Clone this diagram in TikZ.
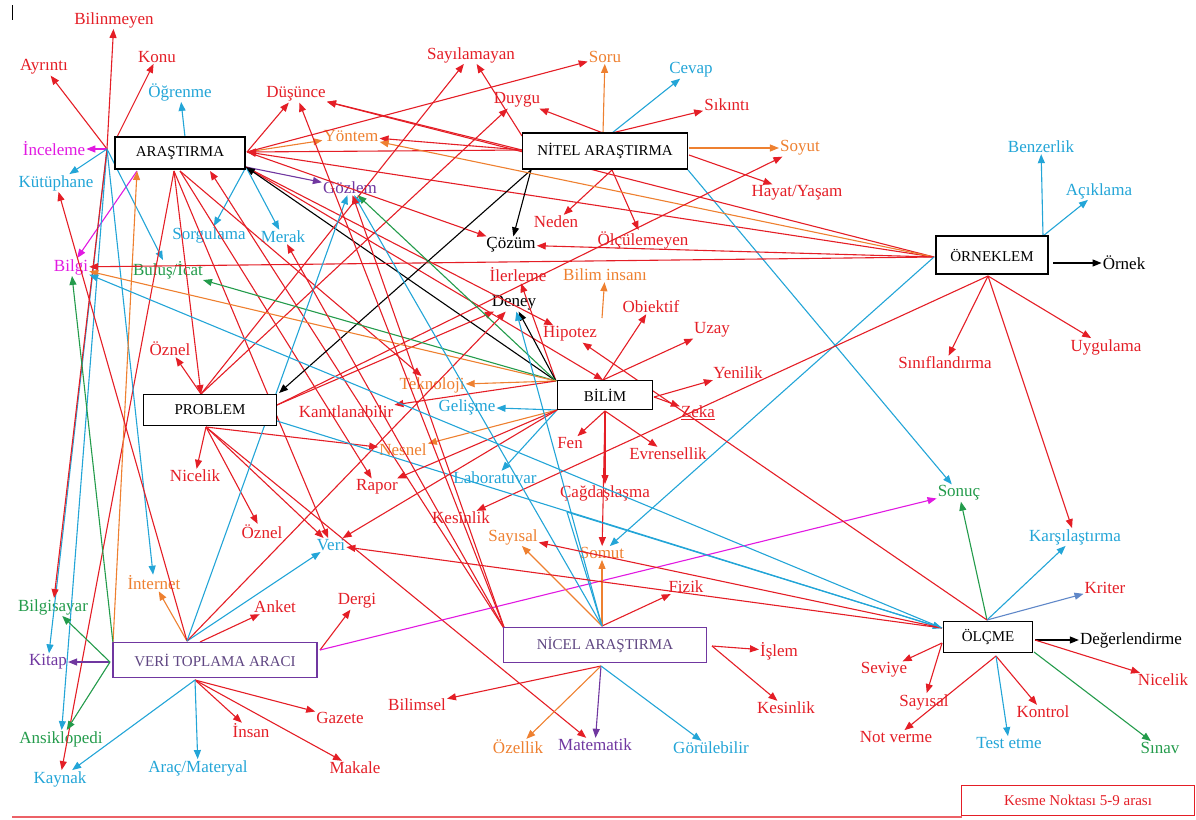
\documentclass[tikz,border=0pt]{standalone}
\usepackage{fontspec}
\setmainfont{Liberation Serif}
\usetikzlibrary{arrows.meta}
\definecolor{kred}{RGB}{228,30,38}
\definecolor{kblu}{RGB}{35,165,215}
\definecolor{korg}{RGB}{238,128,48}
\definecolor{kgrn}{RGB}{35,155,75}
\definecolor{kpur}{RGB}{112,55,160}
\definecolor{kmag}{RGB}{225,25,225}
\definecolor{kstl}{RGB}{95,135,200}
\definecolor{kbox}{RGB}{95,70,130}
\tikzset{
 lab/.style={inner sep=1pt, font=\fontsize{17}{19}\selectfont},
 hub/.style={draw=black, line width=1.2pt, inner sep=0pt, fill=white, font=\fontsize{15}{17}\selectfont},
 phub/.style={hub, draw=kpur, text=kbox},
 ar/.style={line width=1.1pt, -{Triangle[length=9pt,width=7pt]}},
 ln/.style={line width=1.1pt},
}
\begin{document}
\begin{tikzpicture}[x=1pt,y=-1pt]
\useasboundingbox (0,0) rectangle (1196,819);
% hub points
\coordinate (aL) at (107,149); \coordinate (aTl) at (117,137); \coordinate (aT) at (185,137);
\coordinate (aR) at (247,152); \coordinate (aBR) at (246,167); \coordinate (aB) at (174,171);
\coordinate (aB2) at (180,171); \coordinate (aBm) at (210,171); \coordinate (aBo) at (137,171);
\coordinate (nTL) at (522,136); \coordinate (nT) at (603,133); \coordinate (nTR) at (612,133);
\coordinate (nR) at (689,148); \coordinate (nBR) at (689,155); \coordinate (nB) at (612,170);
\coordinate (nBL) at (531,170); \coordinate (nBR2) at (688,170); \coordinate (nL) at (522,150);
\coordinate (oL) at (934,257); \coordinate (oTR) at (1043,236); \coordinate (oR) at (1053,263); \coordinate (oB) at (988,276);
\coordinate (pT) at (201,394); \coordinate (pB) at (206,427); \coordinate (pR) at (277,405); \coordinate (pRB) at (277,421); \coordinate (pNE) at (279,393);
\coordinate (bT) at (603,380); \coordinate (bTL) at (556,381); \coordinate (bR) at (654,397);
\coordinate (bL) at (557,410); \coordinate (bB) at (605,411); \coordinate (bI) at (602,318);
\coordinate (vT) at (187,641); \coordinate (vT2) at (200,642); \coordinate (vTL) at (113,643);
\coordinate (vL) at (110,662); \coordinate (vB) at (195,680); \coordinate (vR) at (320,650);
\coordinate (cT) at (602,626); \coordinate (cTL) at (505,630); \coordinate (cR) at (712,646);
\coordinate (cB) at (601,666); \coordinate (kink) at (567,512);
\coordinate (lT) at (987,620); \coordinate (lL) at (942,628); \coordinate (lR) at (1035,640);
\coordinate (lR2) at (1034,652); \coordinate (lB) at (996,656); \coordinate (lBL) at (942,643);
\coordinate (bar1) at (12,5); \coordinate (bar2) at (12,20);
\coordinate (base1) at (12,817); \coordinate (base2) at (962,817);

% labels
\node[lab,text=kred] (bilinmeyen) at (114,20) {Bilinmeyen};
\node[lab,text=kred] (konu) at (157,57) {Konu};
\node[lab,text=kred] (ayrinti) at (44,67) {Ayrıntı};
\node[lab,text=kblu] (ogrenme) at (180,92) {Öğrenme};
\node[lab,text=kred] (dusunce) at (296,94) {Düşünce};
\node[lab,text=kmag] (inceleme) at (54,149) {İnceleme};
\node[lab,text=kblu] (kutuphane) at (56,183) {Kütüphane};
\node[lab,text=korg] (yontem) at (351,136) {Yöntem};
\node[lab,text=kpur] (gozlem) at (350,188) {Gözlem};
\node[lab,text=kblu] (sorgulama) at (209,235) {Sorgulama};
\node[lab,text=kblu] (merak) at (283,237) {Merak};
\node[lab,text=kmag] (bilgi) at (71,267) {Bilgi};
\node[lab,text=kgrn] (bulus) at (168,270) {Buluş/İcat};
\node[lab,text=kred] (sayilamayan) at (471,55) {Sayılamayan};
\node[lab,text=korg] (soru) at (605,57) {Soru};
\node[lab,text=kblu] (cevap) at (691,70) {Cevap};
\node[lab,text=kred] (duygu) at (517,100) {Duygu};
\node[lab,text=kred] (sikinti) at (727,105) {Sıkıntı};
\node[lab,text=korg] (soyut) at (800,148) {Soyut};
\node[lab,text=kred] (hayat) at (797,193) {Hayat/Yaşam};
\node[lab,text=kred] (neden) at (556,222) {Neden};
\node[lab,text=black] (cozum) at (511,245) {Çözüm};
\node[lab,text=kred] (olculemeyen) at (643,240) {Ölçülemeyen};
\node[lab,text=kblu] (benzerlik) at (1041,147) {Benzerlik};
\node[lab,text=kblu] (aciklama) at (1099,191) {Açıklama};
\node[lab,text=black] (ornek) at (1124,263) {Örnek};
\node[lab,text=kred] (ilerleme) at (518,275) {İlerleme};
\node[lab,text=korg] (biliminsani) at (605,275) {Bilim insanı};
\node[lab,text=black] (deney) at (514,303) {Deney};
\node[lab,text=kred] (obiektif) at (651,307) {Obiektif};
\node[lab,text=kred] (uzay) at (712,330) {Uzay};
\node[lab,text=kred] (hipotez) at (570,334) {Hipotez};
\node[lab,text=kred] (oznel1) at (170,349) {Öznel};
\node[lab,text=kred] (yenilik) at (738,373) {Yenilik};
\node[lab,text=korg] (teknoloji) at (432,385) {Teknoloji};
\node[lab,text=kred] (kanit) at (346,412) {Kanıtlanabilir};
\node[lab,text=kblu] (gelisme) at (467,407) {Gelişme};
\node[lab,text=kred] (zeka) at (698,413) {\underline{Zeka}};
\node[lab,text=kred] (sinif) at (945,363) {Sınıflandırma};
\node[lab,text=kred] (uygulama) at (1106,347) {Uygulama};
\node[lab,text=kred] (fen) at (570,443) {Fen};
\node[lab,text=kred] (evrensellik) at (668,454) {Evrensellik};
\node[lab,text=korg] (nesnel) at (403,450) {Nesnel};
\node[lab,text=kred] (nicelik1) at (195,476) {Nicelik};
\node[lab,text=kred] (rapor) at (377,487) {Rapor};
\node[lab,text=kblu] (laboratuvar) at (495,478) {Laboratuvar};
\node[lab,text=kred] (cagdas) at (605,493) {Çağdaşlaşma};
\node[lab,text=kgrn] (sonuc) at (959,493) {Sonuç};
\node[lab,text=kred] (oznel2) at (262,532) {Öznel};
\node[lab,text=kblu] (veri) at (331,545) {Veri};
\node[lab,text=kred] (kesinlik1) at (461,518) {Kesinlik};
\node[lab,text=korg] (sayisal1) at (513,537) {Sayısal};
\node[lab,text=korg] (somut) at (602,553) {Somut};
\node[lab,text=kblu] (karsilastirma) at (1075,537) {Karşılaştırma};
\node[lab,text=korg] (internet) at (154,583) {İnternet};
\node[lab,text=kred] (anket) at (275,607) {Anket};
\node[lab,text=kred] (dergi) at (357,601) {Dergi};
\node[lab,text=kred] (fizik) at (686,587) {Fizik};
\node[lab,text=kred] (kriter) at (1105,588) {Kriter};
\node[lab,text=kgrn] (bilgisayar) at (53,607) {Bilgisayar};
\node[lab,text=kpur] (kitap) at (48,662) {Kitap};
\node[lab,text=black] (degerlendirme) at (1131,640) {Değerlendirme};
\node[lab,text=kred] (islem) at (779,651) {İşlem};
\node[lab,text=kred] (seviye) at (884,670) {Seviye};
\node[lab,text=kred] (nicelik2) at (1163,680) {Nicelik};
\node[lab,text=kred] (bilimsel) at (417,705) {Bilimsel};
\node[lab,text=kred] (gazete) at (340,718) {Gazete};
\node[lab,text=kred] (kesinlik2) at (786,708) {Kesinlik};
\node[lab,text=kred] (sayisal2) at (924,702) {Sayısal};
\node[lab,text=kred] (kontrol) at (1043,712) {Kontrol};
\node[lab,text=korg] (ozellik) at (518,747) {Özellik};
\node[lab,text=kpur] (matematik) at (595,745) {Matematik};
\node[lab,text=kblu] (gorulebilir) at (711,748) {Görülebilir};
\node[lab,text=kgrn] (ansiklopedi) at (61,739) {Ansiklopedi};
\node[lab,text=kred] (insan) at (251,731) {İnsan};
\node[lab,text=kred] (notverme) at (896,737) {Not verme};
\node[lab,text=kblu] (testetme) at (1009,743) {Test etme};
\node[lab,text=kgrn] (sinav) at (1160,748) {Sınav};
\node[lab,text=kblu] (kaynak) at (60,779) {Kaynak};
\node[lab,text=kblu] (arac) at (198,768) {Araç/Materyal};
\node[lab,text=kred] (makale) at (355,768) {Makale};

% edges: ARASTIRMA
\draw[ar,kred] (aL) -- (ayrinti);
\draw[ar,kred] (aL) -- (bilinmeyen);
\draw[ar,kred] (aTl) -- (konu);
\draw[ar,kblu] (aT) -- (ogrenme);
\draw[ar,kmag] (aL) -- (inceleme);
\draw[ar,kblu] (aL) -- (kutuphane);
\draw[ar,kmag] (aBo) -- (bilgi);
\draw[ar,kblu] (aL) -- (bulus);
\draw[ar,kblu] (aL) -- (kitap);
\draw[ar,kblu] (aL) -- (ansiklopedi);
\draw[ar,kred] (aL) -- (bilgisayar);
\draw[ar,kred] (aB) -- (kaynak);
\draw[ar,kblu] (aL) -- (internet);
\draw[ar,kred] (aR) -- (dusunce);
\draw[ar,kpur] (aBR) -- (gozlem);
\draw[ar,korg] (aR) -- (yontem);
\draw[ar,kblu] (aBR) -- (merak);
\draw[ar,kblu] (aBR) -- (sorgulama);
\draw[ar,kred] (aR) -- (soru);
\draw[ar,kred] (aB) -- (pT);
\draw[ar,kred] (aB2) -- (teknoloji);
\draw[ar,kred] (aB2) -- (rapor);
\draw[ar,kred] (aB) -- (veri);
\draw[ar,kred] (aBR) -- (hipotez);
\draw[ar,kred] (aBR) -- (bT);
\draw[ar,kred] (aR) -- (cozum);
\draw[ar,kred] (nL) -- (aR);
\draw[ar,kred] (oL) -- (aR);
\draw[ar,black] (bTL) -- (aBR);
\draw[ar,kred] (cTL) -- (aBm);
\draw[ar,korg] (vTL) -- (aBo);
% NITEL
\draw[ar,kred] (nTL) -- (sayilamayan);
\draw[ar,kred] (nT) -- (duygu);
\draw[ar,korg] (nT) -- (soru);
\draw[ar,kblu] (nTR) -- (cevap);
\draw[ar,kred] (nTR) -- (sikinti);
\draw[ar,korg] (nR) -- (soyut);
\draw[ar,kred] (nBR) -- (hayat);
\draw[ar,kred] (nB) -- (neden);
\draw[ar,kred] (nB) -- (olculemeyen);
\draw[ar,black] (nBL) -- (cozum);
\draw[ar,black] (nBL) -- (pNE);
\draw[ar,kblu] (nBR2) -- (sonuc);
\draw[ar,kred] (nL) -- (dusunce);
\draw[ar,kred] (nL) -- (yontem);
% ORNEKLEM
\draw[ar,kblu] (oTR) -- (benzerlik);
\draw[ar,kblu] (oTR) -- (aciklama);
\draw[ar,black] (oR) -- (ornek);
\draw[ar,kred] (oB) -- (sinif);
\draw[ar,kred] (oB) -- (uygulama);
\draw[ar,kred] (oB) -- (karsilastirma);
\draw[ar,kred] (oL) -- (dusunce);
\draw[ar,korg] (oL) -- (yontem);
\draw[ar,kred] (oL) -- (cozum);
\draw[ar,kred] (oL) -- (bilgi);
\draw[ar,kblu] (oL) -- (somut);
\draw[ar,kred] (oB) -- (kesinlik1);
% PROBLEM
\draw[ar,kred] (pT) -- (oznel1);
\draw[ar,kred] (pB) -- (nicelik1);
\draw[ar,kred] (pB) -- (oznel2);
\draw[ar,kred] (pB) -- (veri);
\draw[ar,kred] (pB) -- (nesnel);
\draw[ar,kred] (pB) -- (matematik);
\draw[ar,kred] (pT) -- (sayilamayan);
\draw[ar,kred] (pT) -- (duygu);
\draw[ar,kred] (pR) -- (soyut);
\draw[ar,kred] (pR) -- (deney);
\draw[ar,kblu] (pRB) -- (lL);
% BILIM
\draw[ar,korg] (bI) -- (biliminsani);
\draw[ar,kred] (bT) -- (obiektif);
\draw[ar,kred] (bT) -- (uzay);
\draw[ar,kred] (bR) -- (yenilik);
\draw[ar,kred] (bR) -- (zeka);
\draw[ar,kred] (bTL) -- (ilerleme);
\draw[ar,black] (bTL) -- (deney);
\draw[ar,korg] (bTL) -- (teknoloji);
\draw[ar,kred] (bTL) -- (kanit);
\draw[ar,kblu] (bL) -- (gelisme);
\draw[ar,korg] (bL) -- (nesnel);
\draw[ar,kblu] (bL) -- (laboratuvar);
\draw[ar,kred] (bL) -- (rapor);
\draw[ar,kred] (bL) -- (veri);
\draw[ar,kred] (bB) -- (fen);
\draw[ar,kred] (bB) -- (evrensellik);
\draw[ar,kred] (bB) -- (cagdas);
\draw[ar,kred] (bB) -- (somut);
\draw[ar,kgrn] (bTL) -- (gozlem);
\draw[ar,kgrn] (bTL) -- (bulus);
\draw[ar,korg] (bTL) -- (bilgi);
% VERI TOPLAMA ARACI
\draw[ar,korg] (vT) -- (internet);
\draw[ar,kred] (vT2) -- (anket);
\draw[ar,kblu] (vT) -- (veri);
\draw[ar,kred] (vR) -- (dergi);
\draw[ar,kmag] (vR) -- (sonuc);
\draw[ar,kred] (vB) -- (gazete);
\draw[ar,kred] (vB) -- (insan);
\draw[ar,kred] (vB) -- (makale);
\draw[ar,kblu] (vB) -- (arac);
\draw[ar,kblu] (vB) -- (kaynak);
\draw[ar,kpur] (vL) -- (kitap);
\draw[ar,kgrn] (vL) -- (ansiklopedi);
\draw[ar,kgrn] (vL) -- (bilgisayar);
\draw[ar,kgrn] (vTL) -- (bilgi);
\draw[ar,kred] (vT) -- (kutuphane);
\draw[ar,kred] (vT) -- (deney);
\draw[ar,kblu] (vT) -- (gozlem);
% NICEL
\draw[ar,kred] (cT) -- (fizik);
\draw[ar,korg] (cT) -- (somut);
\draw[ar,korg] (cT) -- (sayisal1);
\draw[ar,kred] (cR) -- (islem);
\draw[ar,kred] (cR) -- (kesinlik2);
\draw[ar,kred] (cB) -- (bilimsel);
\draw[ar,korg] (cB) -- (ozellik);
\draw[ar,kpur] (cB) -- (matematik);
\draw[ar,kblu] (cB) -- (gorulebilir);
\draw[ar,kblu] (cT) -- (gozlem);
\draw[ar,kblu] (cT) -- (deney);
\draw[ar,kred] (cTL) -- (gozlem);
\draw[ar,kred] (cTL) -- (dusunce);
\draw[ar,kred] (cTL) -- (merak);
\draw[ln,kblu] (cT) -- (kink);
\draw[ar,kblu] (kink) -- (lL);
% OLCME
\draw[ar,kgrn] (lT) -- (sonuc);
\draw[ar,kblu] (lT) -- (karsilastirma);
\draw[ar,kstl] (lT) -- (kriter);
\draw[ar,black] (lR) -- (degerlendirme);
\draw[ar,kred] (lR) -- (nicelik2);
\draw[ar,kgrn] (lR2) -- (sinav);
\draw[ar,kred] (lB) -- (kontrol);
\draw[ar,kblu] (lB) -- (testetme);
\draw[ar,kred] (lB) -- (notverme);
\draw[ar,kred] (lBL) -- (sayisal2);
\draw[ar,kred] (lBL) -- (seviye);
\draw[ar,kred] (lL) -- (veri);
\draw[ar,kred] (lL) -- (sayisal1);
\draw[ar,kred] (lT) -- (hipotez);
\draw[ar,kblu] (lL) -- (bilgi);

% hub boxes on top
\node[hub, minimum width=130pt, minimum height=32pt] (ars) at (180,153) {ARAŞTIRMA};
\node[hub, minimum width=165pt, minimum height=36pt] (nit) at (605,151) {NİTEL ARAŞTIRMA};
\node[hub, minimum width=112pt, minimum height=38pt] (orn) at (992,255) {ÖRNEKLEM};
\node[hub, minimum width=133pt, minimum height=31pt] (prob) at (210,410) {PROBLEM};
\node[hub, minimum width=95pt, minimum height=29pt] (bil) at (605,395) {BİLİM};
\node[phub, minimum width=204pt, minimum height=35pt] (vta) at (215,660) {VERİ TOPLAMA ARACI};
\node[phub, minimum width=203pt, minimum height=35pt] (nic) at (605,645) {NİCEL ARAŞTIRMA};
\node[hub, minimum width=89pt, minimum height=31pt] (olc) at (988,637) {ÖLÇME};
\node[draw=kred, line width=1pt, minimum width=233pt, minimum height=30pt, inner sep=0pt, text=kred, font=\fontsize{15}{17}\selectfont] (kesme) at (1078,800) {Kesme Noktası 5-9 arası};
\draw[line width=1pt] (bar1) -- (bar2);
\draw[kred!70, line width=1.6pt] (base1) -- (base2);
\end{tikzpicture}
\end{document}
